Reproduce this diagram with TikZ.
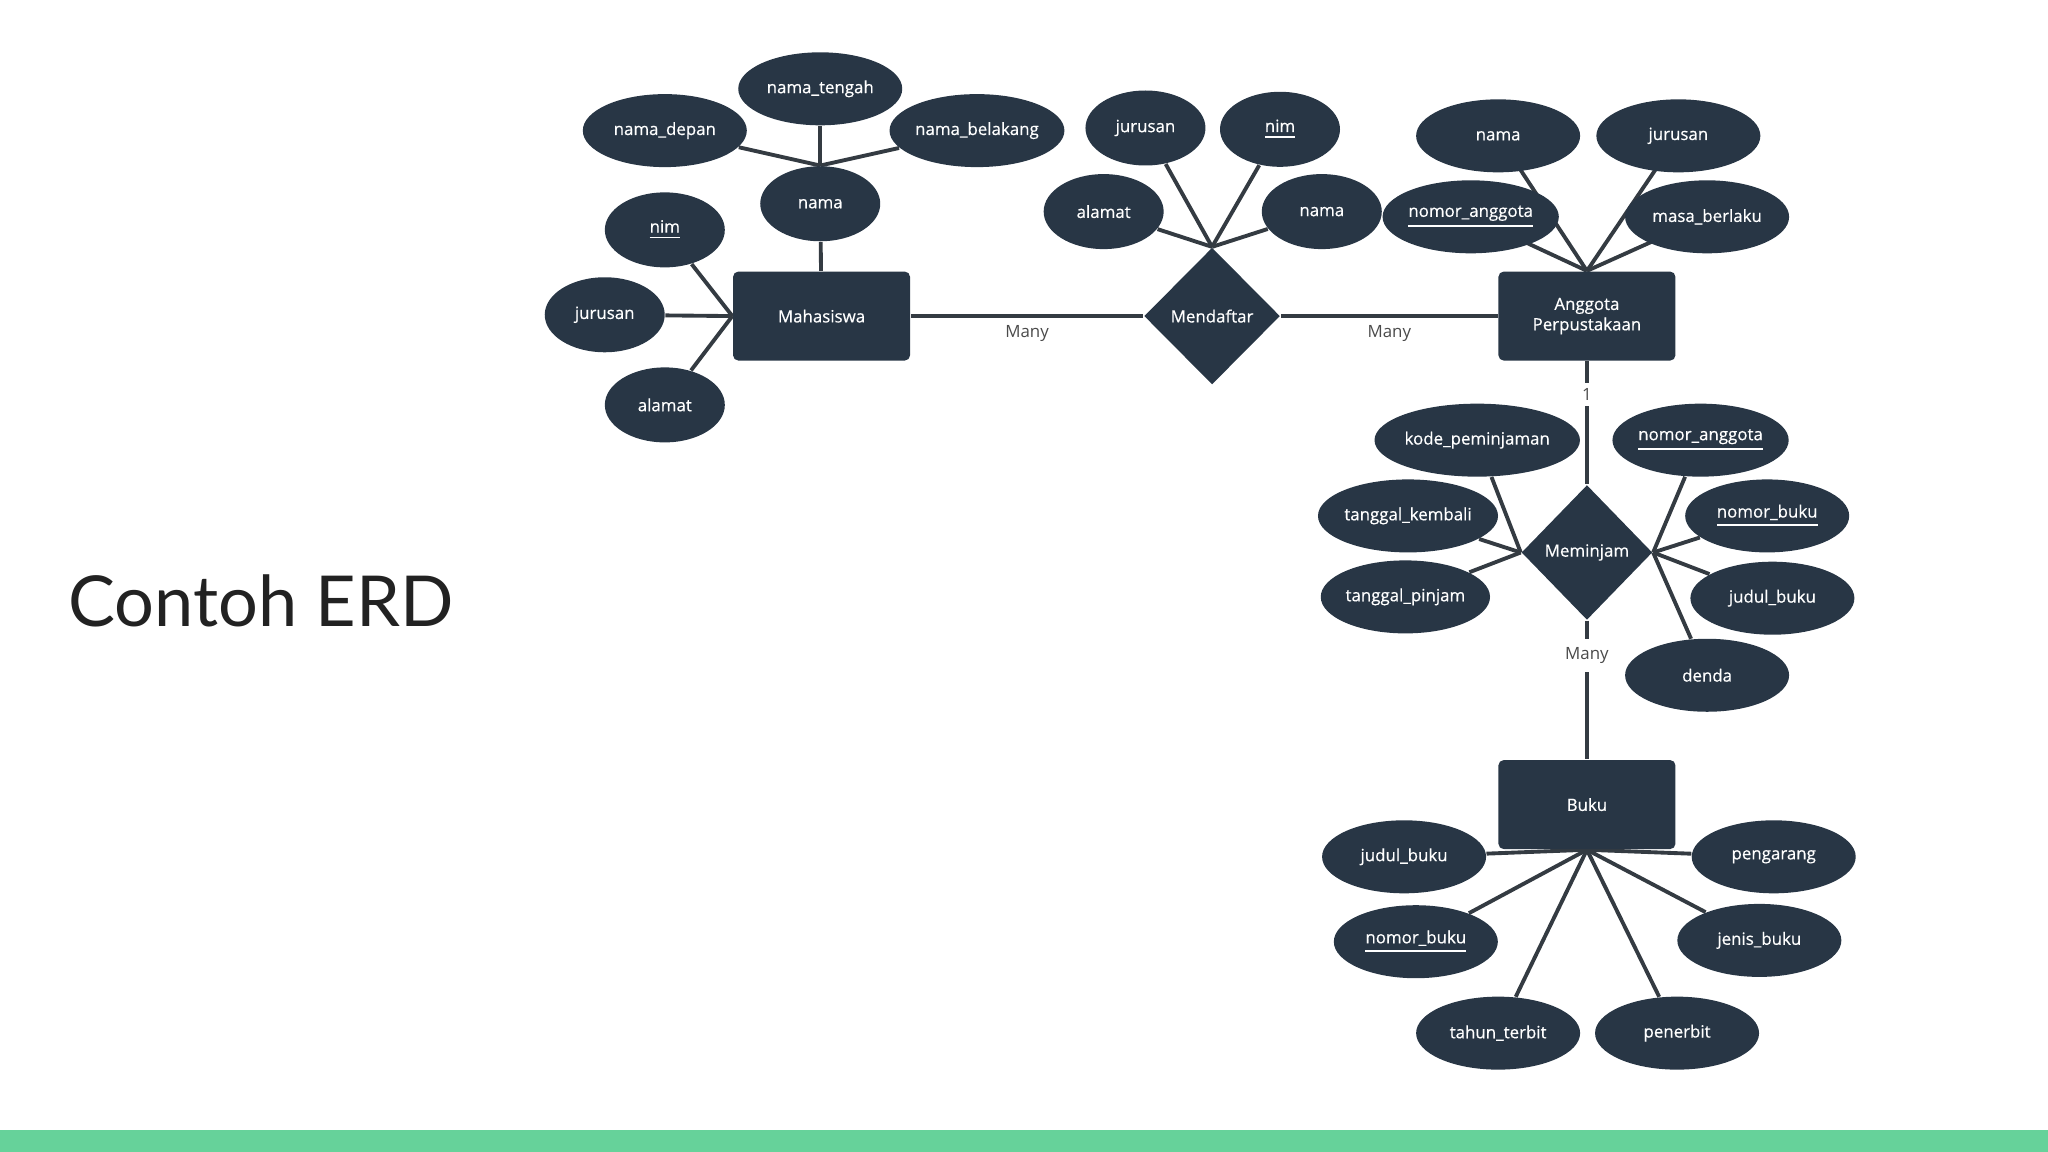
\documentclass[tikz,border=0pt]{standalone}
\usepackage{fontspec}
\setmainfont{Open Sans}
\newfontfamily\titlefont{Lato}
\newfontfamily\nodefont{Open Sans}[FakeBold=0.5]
\usetikzlibrary{shapes.geometric, positioning, backgrounds}
\definecolor{erdnavy}{HTML}{283645}
\definecolor{linkgrey}{HTML}{343B42}
\definecolor{labelgrey}{HTML}{4A4A4A}
\definecolor{slidegreen}{HTML}{66D29A}
\definecolor{titleink}{HTML}{222222}
\newcommand{\keyattr}[1]{\underline{#1}}
\tikzset{
  link/.style={line width=1.1pt, linkgrey},
  attr/.style={ellipse, fill=erdnavy, text=white, font=\nodefont\fontsize{4.8}{5.6}\selectfont, inner sep=0pt, minimum width=1.64cm, minimum height=0.73cm},
  sattr/.style={attr, minimum width=1.2cm, minimum height=0.75cm},
  entity/.style={rectangle, rounded corners=1.5pt, fill=erdnavy, text=white, font=\nodefont\fontsize{4.8}{5.8}\selectfont, align=center, minimum width=1.77cm, minimum height=0.89cm},
  relation/.style={diamond, fill=erdnavy, text=white, font=\nodefont\fontsize{4.8}{5.6}\selectfont, inner sep=0pt, minimum width=1.36cm, minimum height=1.37cm},
  card/.style={text=labelgrey, inner sep=1.5pt},
}
\begin{document}
\begin{tikzpicture}[x=0.13061mm, y=-0.13061mm, font=\fontsize{4.8}{5.6}\selectfont]
  \useasboundingbox (0,0) rectangle (1568,882);
  \fill[slidegreen] (0,865) rectangle (1568,882);
  \node[anchor=west, inner sep=0pt, text=titleink, font=\titlefont\fontsize{20}{24}\selectfont] (title) at (52,460) {Contoh ERD};

  % Mahasiswa and its attributes
  \node[entity] (Mhs) at (629,242) {Mahasiswa};
  \node[sattr] (MNama) at (628,156) {nama};
  \node[attr] (MTengah) at (628,68) {nama\_tengah};
  \node[attr] (MDepan) at (509,100) {nama\_depan};
  \node[attr] (MBelakang) at (748,100) {nama\_belakang};
  \node[sattr] (MNim) at (509,176) {\keyattr{nim}};
  \node[sattr] (MJurusan) at (463,241) {jurusan};
  \node[sattr] (MAlamat) at (509,310) {alamat};

  % Mendaftar
  \node[relation] (Dft) at (928,242) {Mendaftar};
  \node[sattr] (DJurusan) at (877,98) {jurusan};
  \node[sattr] (DNim) at (980,99) {\keyattr{nim}};
  \node[sattr] (DAlamat) at (845,162) {alamat};
  \node[sattr] (DNama) at (1012,162) {nama};

  % Anggota Perpustakaan
  \node[entity] (Agt) at (1215,242) {Anggota\\Perpustakaan};
  \node[attr] (ANama) at (1147,104) {nama};
  \node[attr] (AJurusan) at (1285,104) {jurusan};
  \node[attr] (ANomor) at (1126,166) {\keyattr{nomor\_anggota}};
  \node[attr] (AMasa) at (1307,166) {masa\_berlaku};

  % Meminjam
  \node[relation, minimum width=1.31cm, minimum height=1.35cm] (Pjm) at (1215,423) {Meminjam};
  \node[attr] (PKode) at (1131,337) {kode\_peminjaman};
  \node[attr] (PKembali) at (1078,395) {tanggal\_kembali};
  \node[attr] (PPinjam) at (1076,457) {tanggal\_pinjam};
  \node[attr] (PAnggota) at (1302,337) {\keyattr{nomor\_anggota}};
  \node[attr] (PBuku) at (1353,395) {\keyattr{nomor\_buku}};
  \node[attr] (PJudul) at (1357,458) {judul\_buku};
  \node[attr] (PDenda) at (1307,517) {denda};

  % Buku
  \node[entity] (Bk) at (1215,616) {Buku};
  \node[attr] (BJudul) at (1075,656) {judul\_buku};
  \node[attr] (BNomor) at (1084,721) {\keyattr{nomor\_buku}};
  \node[attr] (BTahun) at (1147,791) {tahun\_terbit};
  \node[attr] (BPenerbit) at (1284,791) {penerbit};
  \node[attr] (BJenis) at (1347,720) {jenis\_buku};
  \node[attr] (BPengarang) at (1358,656) {pengarang};

  % attribute links, behind the shapes
  \begin{scope}[on background layer]
    \foreach \a in {MTengah,MDepan,MBelakang} {
      \draw[link] (\a) -- (MNama.north);
    }
    \draw[link] (MNama) -- (Mhs);
    \foreach \a in {MNim,MJurusan,MAlamat} {
      \draw[link] (\a) -- (Mhs.west);
    }
    \foreach \a in {DJurusan,DNim,DAlamat,DNama} {
      \draw[link] (\a) -- (Dft.north);
    }
    \foreach \a in {ANama,AJurusan,ANomor,AMasa} {
      \draw[link] (\a.center) -- (Agt.north);
    }
    \foreach \a in {PKode,PKembali,PPinjam} {
      \draw[link] (\a) -- (Pjm.west);
    }
    \foreach \a in {PAnggota,PBuku,PJudul,PDenda} {
      \draw[link] (\a) -- (Pjm.east);
    }
    \foreach \a in {BJudul,BNomor,BTahun,BPenerbit,BJenis,BPengarang} {
      \draw[link] (\a) -- (Bk.south);
    }
  \end{scope}

  % relationships
  \draw[link] (Mhs) -- node[card, below=0.5pt] {Many} (Dft);
  \draw[link] (Dft) -- node[card, below=0.5pt] {Many} (Agt);
  \draw[link] (Agt) -- node[card, fill=white, pos=0.27] {1} (Pjm);
  \draw[link] (Pjm) -- node[card, fill=white, inner sep=2.5pt, pos=0.25] {Many} (Bk);
\end{tikzpicture}
\end{document}
